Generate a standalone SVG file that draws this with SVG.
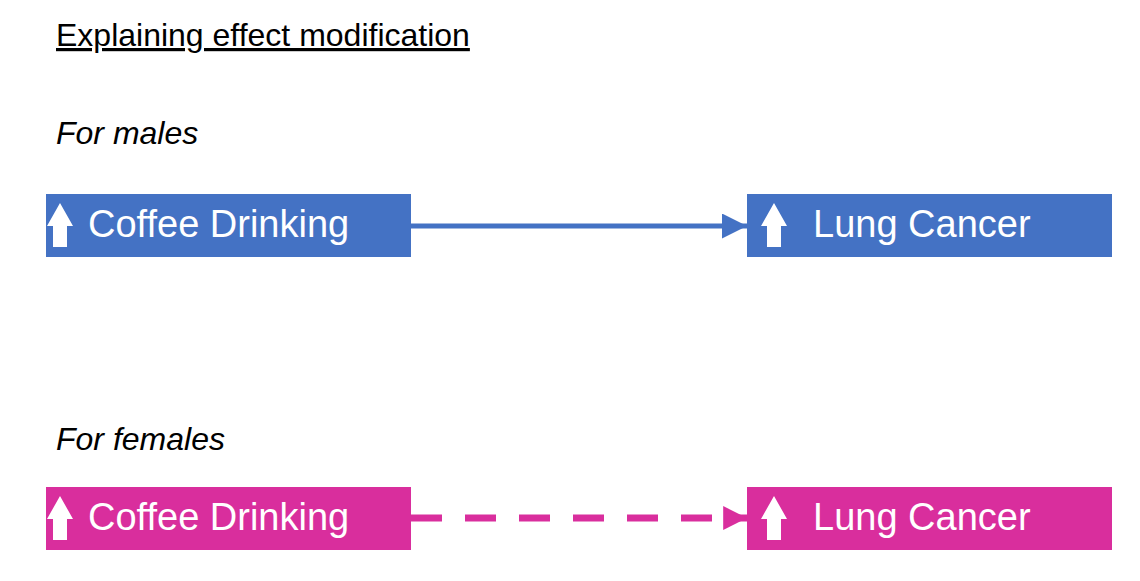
<svg xmlns="http://www.w3.org/2000/svg" width="1140" height="581" viewBox="0 0 1140 581">
<style>
.t{font-family:"Liberation Sans",Arial,sans-serif;fill:#000}
.lbl{font-family:"Liberation Sans",Arial,sans-serif;fill:#fff;font-size:38px}
.blue{fill:#4472C4}.pink{fill:#D92E9D}
.up{fill:#fff}
</style>
<defs>
<marker id="ab" viewBox="0 0 10 10" refX="10" refY="5" markerWidth="5" markerHeight="5" orient="auto" markerUnits="strokeWidth"><path d="M0,0L10,5L0,10z" fill="#4472C4"/></marker>
<marker id="ap" viewBox="0 0 10 10" refX="10" refY="5" markerWidth="3.4" markerHeight="3.4" orient="auto" markerUnits="strokeWidth"><path d="M0,0L10,5L0,10z" fill="#D92E9D"/></marker>
<path id="uparr" d="M0,9L13,-14L26,9L20,9L20,30L6,30L6,9z"/>
</defs>
<text class="t" x="56" y="46" font-size="32" text-decoration="underline">Explaining effect modification</text>
<text class="t" x="56" y="144" font-size="32" font-style="italic">For males</text>
<text class="t" x="56" y="450" font-size="32" font-style="italic">For females</text>
<g id="connectors">
<line x1="411" y1="226" x2="747" y2="226" stroke="#4472C4" stroke-width="5" marker-end="url(#ab)"/>
<line x1="411" y1="518" x2="747" y2="518" stroke="#D92E9D" stroke-width="7" stroke-dasharray="31 23" marker-end="url(#ap)"/>
</g>
<g id="n1"><rect class="blue" x="46" y="194" width="365" height="63"/><use href="#uparr" class="up" x="47" y="217"/><text class="lbl" x="88" y="237">Coffee Drinking</text></g>
<g id="n2"><rect class="blue" x="747" y="194" width="365" height="63"/><use href="#uparr" class="up" x="761" y="217"/><text class="lbl" x="813" y="237">Lung Cancer</text></g>
<g id="n3"><rect class="pink" x="46" y="487" width="365" height="63"/><use href="#uparr" class="up" x="47" y="510"/><text class="lbl" x="88" y="530">Coffee Drinking</text></g>
<g id="n4"><rect class="pink" x="747" y="487" width="365" height="63"/><use href="#uparr" class="up" x="761" y="510"/><text class="lbl" x="813" y="530">Lung Cancer</text></g>
</svg>
